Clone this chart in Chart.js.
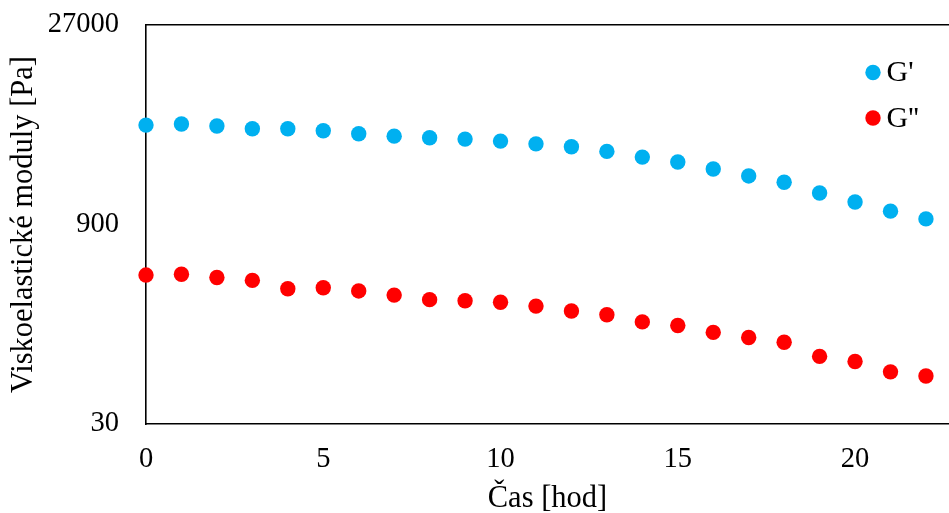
<!DOCTYPE html>
<html>
<head>
<meta charset="utf-8">
<script src="https://cdn.jsdelivr.net/npm/chart.js@4/dist/chart.umd.min.js"></script>
<style>
  html, body { margin: 0; padding: 0; background: #fff; overflow: hidden; }
  #frame { width: 949px; height: 513px; overflow: hidden; }
  #box { position: relative; width: 949px; height: 530px; }
</style>
</head>
<body>
<div id="frame"><div id="box"><canvas id="modChart"></canvas></div></div>
<script>
// time in hours
const hours = [0, 1, 2, 3, 4, 5, 6, 7, 8, 9, 10, 11, 12, 13, 14, 15, 16, 17, 18, 19, 20, 21, 22];
// storage modulus G' [Pa]
const gStorage = [4900, 4990, 4820, 4600, 4600, 4450, 4230, 4060, 3950, 3860, 3730, 3560, 3390, 3130, 2840, 2610, 2320, 2060, 1850, 1540, 1320, 1130, 990];
// loss modulus G'' [Pa]
const gLoss = [380, 385, 365, 347, 301, 306, 290, 270, 250, 245, 239, 224, 206, 193, 171, 161, 143, 131, 121, 95, 87, 73, 68];

const seriesLabels = ["G'", "G''"];
const xTicks = [0, 5, 10, 15, 20];
const yTicks = [30, 900, 27000];

const COLORS = { storage: '#00B0F0', loss: '#FF0000', ink: '#000000' };
const FAMILY = '"Liberation Serif", "Times New Roman", serif';
const TICK_SIZE = 28.5, TITLE_SIZE = 30.5, LEGEND_SIZE = 30;

Chart.defaults.font.family = FAMILY;
Chart.defaults.font.size = TICK_SIZE;
Chart.defaults.color = COLORS.ink;

function toPoints(xs, ys) {
  return xs.map((x, i) => ({ x, y: ys[i] }));
}

// small in-plot legend, top right like the original
const cornerLegend = {
  id: 'cornerLegend',
  afterDatasetsDraw(chart) {
    const { ctx, chartArea } = chart;
    ctx.save();
    ctx.font = `${LEGEND_SIZE}px ${FAMILY}`;
    ctx.textBaseline = 'middle';
    ctx.textAlign = 'left';
    chart.data.datasets.forEach((ds, i) => {
      const cx = chartArea.right - 76;
      const cy = chartArea.top + 47.5 + i * 45.5;
      ctx.fillStyle = ds.backgroundColor;
      ctx.beginPath();
      ctx.arc(cx, cy, 7.7, 0, Math.PI * 2);
      ctx.fill();
      ctx.fillStyle = COLORS.ink;
      ctx.fillText(ds.label, cx + 13.5, cy + 1);
    });
    ctx.restore();
  },
};

const axisBorder = { display: true, color: COLORS.ink, width: 1.6 };
const titleFont = { size: TITLE_SIZE };

new Chart(document.getElementById('modChart'), {
  type: 'scatter',
  data: {
    datasets: [
      { label: seriesLabels[0], data: toPoints(hours, gStorage), backgroundColor: COLORS.storage, borderWidth: 0, pointRadius: 7.7, pointHoverRadius: 7.7, clip: false },
      { label: seriesLabels[1], data: toPoints(hours, gLoss), backgroundColor: COLORS.loss, borderWidth: 0, pointRadius: 7.7, pointHoverRadius: 7.7, clip: false },
    ],
  },
  options: {
    responsive: true,
    maintainAspectRatio: false,
    animation: false,
    layout: { autoPadding: false, padding: { top: 25, right: 0, bottom: 13, left: 0 } },
    plugins: { legend: { display: false }, tooltip: { enabled: false } },
    scales: {
      x: {
        type: 'linear', position: 'bottom', min: 0, max: 22.65,
        grid: { display: false, drawTicks: false },
        border: axisBorder,
        afterBuildTicks: (s) => { s.ticks = xTicks.map(v => ({ value: v })); },
        afterFit: (s) => { s.height = 93; s.paddingLeft = 0; s.paddingRight = 0; },
        ticks: { padding: 18, callback: (v) => String(v) },
        title: { display: true, text: 'Čas [hod]', font: titleFont, padding: { top: 0, bottom: 0 } },
      },
      xTop: {
        type: 'linear', position: 'top', min: 0, max: 22.65,
        grid: { display: false, drawTicks: false },
        border: axisBorder,
        ticks: { display: false },
      },
      y: {
        type: 'logarithmic', position: 'left', min: 30, max: 27000,
        grid: { display: false, drawTicks: false },
        border: axisBorder,
        afterBuildTicks: (s) => { s.ticks = yTicks.map(v => ({ value: v })); },
        afterFit: (s) => { s.width = 146; s.paddingTop = 0; s.paddingBottom = 0; },
        ticks: { padding: 27, callback: (v) => String(v) },
        title: { display: true, text: 'Viskoelastické moduly [Pa]', font: titleFont, padding: { top: 5.5, bottom: 0 } },
      },
    },
  },
  plugins: [cornerLegend],
});
</script>
</body>
</html>
